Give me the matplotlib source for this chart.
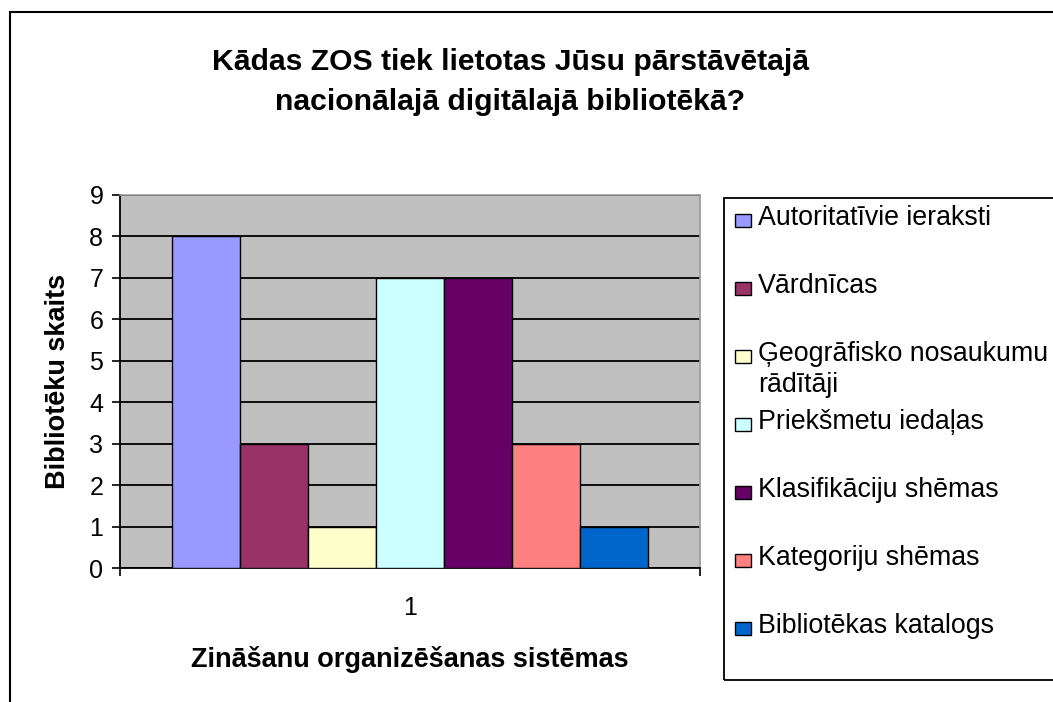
import matplotlib.pyplot as plt
from matplotlib.patches import Rectangle

plt.rcParams['font.family'] = ['Liberation Sans', 'DejaVu Sans']

# data
labels = ["Autoritatīvie ieraksti", "Vārdnīcas", "Ģeogrāfisko nosaukumu\nrādītāji",
          "Priekšmetu iedaļas", "Klasifikāciju shēmas", "Kategoriju shēmas",
          "Bibliotēkas katalogs"]
values = [8, 3, 1, 7, 7, 3, 1]
colors = ["#9999FF", "#993366", "#FFFFCC", "#CCFFFF", "#660066", "#FF8080", "#0066CC"]
category = ["1"]

W, H = 1053, 702
fig = plt.figure(figsize=(W / 100, H / 100), dpi=100)

# outer chart frame (cut off at right and bottom)
fig.patches.append(Rectangle((10 / W, -0.1), 1.2, 1 - 12 / H + 0.1, transform=fig.transFigure,
                             fill=False, edgecolor="black", lw=1.5))

ax = fig.add_axes([120 / W, 1 - 568 / H, 580 / W, 373 / H])
ax.set_facecolor("#C0C0C0")

n = len(values)
for i, (v, c) in enumerate(zip(values, colors)):
    ax.bar(i - (n - 1) / 2, v, width=1, color=c, edgecolor="black", lw=1, zorder=3)

half = 290 / 68
ax.set_xlim(-half, half)
ax.set_ylim(0, 9)
ax.set_yticks(range(0, 10))
ax.yaxis.grid(True, color="black", lw=1.3, zorder=1)
ax.set_axisbelow(True)

ax.set_xticks([0])
ax.set_xticklabels(category)
ax.set_xticks([-half, half], minor=True)
ax.tick_params(axis="x", which="major", length=0, pad=20, labelsize=18)
ax.tick_params(axis="x", which="minor", length=6, width=1.2, direction="out")
ax.tick_params(axis="y", length=6, width=1.2, labelsize=18, pad=6)

for s in ["top", "right"]:
    ax.spines[s].set_color("#999999")
    ax.spines[s].set_linewidth(1.2)
for s in ["left", "bottom"]:
    ax.spines[s].set_color("black")
    ax.spines[s].set_linewidth(1.3)

ax.set_ylabel("Bibliotēku skaits", fontsize=19.5, fontweight="bold", labelpad=13)
ax.set_xlabel("Zināšanu organizēšanas sistēmas", fontsize=19.5, fontweight="bold", labelpad=19)

fig.text(510 / W, 1 - 82 / H, "Kādas ZOS tiek lietotas Jūsu pārstāvētajā\nnacionālajā digitālajā bibliotēkā?",
         ha="center", va="center", fontsize=21.7, fontweight="bold", linespacing=1.5)

# legend box
fig.patches.append(Rectangle((724 / W, 1 - 680 / H), 0.5, (680 - 198) / H, transform=fig.transFigure,
                             fill=False, edgecolor="black", lw=1.3))
y0 = 220
dy = 68
for i, (lab, c) in enumerate(zip(labels, colors)):
    yc = y0 + i * dy
    fig.patches.append(Rectangle((735 / W, 1 - (yc + 6.5) / H), 16 / W, 13 / H,
                                 transform=fig.transFigure, facecolor=c, edgecolor="black", lw=1))
    fig.text(758 / W, 1 - (yc - 15) / H, lab, ha="left", va="top", fontsize=19.3, linespacing=1.25)

fig.savefig("out.png", dpi=100)
